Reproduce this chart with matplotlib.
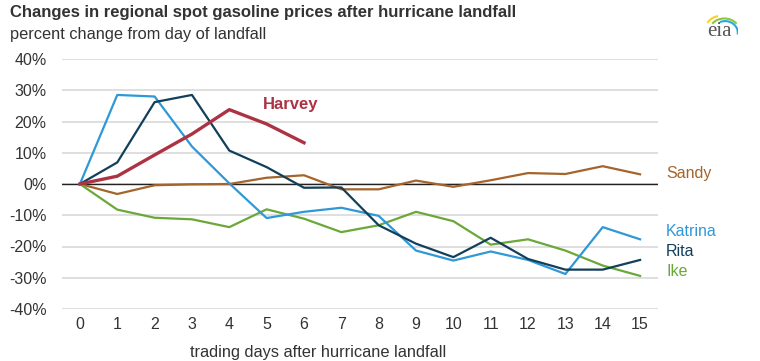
import matplotlib.pyplot as plt
from matplotlib.patches import Arc

# dias de pregão após a chegada do furacão
dias = list(range(16))
rotulos_x = [str(d) for d in dias]

katrina = [0, 28.5, 28.0, 12.0, 0.2, -10.9, -8.9, -7.6, -10.2, -21.3, -24.5, -21.6, -24.3, -28.8, -13.8, -17.7]
rita = [0, 6.9, 26.2, 28.5, 10.7, 5.4, -1.2, -1.1, -13.2, -19.1, -23.4, -17.2, -24.0, -27.4, -27.4, -24.3]
ike = [0, -8.2, -10.8, -11.3, -13.8, -8.1, -11.1, -15.4, -13.2, -8.9, -11.9, -19.4, -17.7, -21.3, -26.1, -29.4]
sandy = [0, -3.2, -0.4, -0.1, 0.0, 2.0, 2.8, -1.7, -1.7, 1.1, -0.9, 1.2, 3.5, 3.2, 5.7, 3.1]
harvey = [0, 2.5, 9.3, 16.0, 23.8, 19.2, 13.2]

cor_katrina = "#2f98d6"
cor_rita = "#123f5a"
cor_ike = "#6aa83a"
cor_sandy = "#a4642c"
cor_harvey = "#ab3343"

fonte = "Liberation Sans"

fig = plt.figure(figsize=(7.6, 3.61), dpi=100)
ax = fig.add_axes([62 / 760, 52 / 361, 596 / 760, 250 / 361])

ax.set_ylim(-40, 40)
ax.set_xlim(-0.48, 15.48)
ax.set_yticks(range(-40, 41, 10))
ax.set_yticklabels([f"{v}%" for v in range(-40, 41, 10)], fontfamily=fonte)
ax.set_xticks(dias)
ax.set_xticklabels(rotulos_x, fontfamily=fonte)
ax.tick_params(length=0, labelsize=11.5, colors="#333333", pad=6)
ax.tick_params(axis="y", pad=11)
ax.grid(axis="y", color="#d9d9d9", linewidth=1.2)
ax.set_axisbelow(True)
for s in ax.spines.values():
    s.set_visible(False)
ax.axhline(0, color="#222222", linewidth=1.0, zorder=2)

ax.plot(dias, sandy, color=cor_sandy, linewidth=1.6, zorder=3)
ax.plot(dias, ike, color=cor_ike, linewidth=1.6, zorder=3)
ax.plot(dias, katrina, color=cor_katrina, linewidth=1.6, zorder=4)
ax.plot(dias, rita, color=cor_rita, linewidth=1.6, zorder=4)
ax.plot(dias[:len(harvey)], harvey, color=cor_harvey, linewidth=2.4, zorder=5)

ax.text(4.9, 25.5, "Harvey", color=cor_harvey, fontsize=12, fontweight="bold",
        fontfamily=fonte, va="center")
ax.text(15.7, 3.5, "Sandy", color=cor_sandy, fontsize=11.5, fontfamily=fonte, va="center")
ax.text(15.7, -15.3, "Katrina", color=cor_katrina, fontsize=11.5, fontfamily=fonte, va="center")
ax.text(15.7, -21.6, "Rita", color=cor_rita, fontsize=11.5, fontfamily=fonte, va="center")
ax.text(15.7, -27.9, "Ike", color=cor_ike, fontsize=11.5, fontfamily=fonte, va="center")

fig.text(10 / 760, 1 - 13 / 361, "Changes in regional spot gasoline prices after hurricane landfall",
         fontsize=12, fontweight="bold", color="#333333", fontfamily=fonte, va="center")
fig.text(10 / 760, 1 - 34 / 361, "percent change from day of landfall",
         fontsize=11.8, color="#333333", fontfamily=fonte, va="center")
fig.text(190 / 760, 1 - 352 / 361, "trading days after hurricane landfall",
         fontsize=11.8, color="#333333", fontfamily=fonte, va="center")

# logo eia
fig.text(719 / 760, 1 - 31 / 361, "eia", fontsize=15, color="#555555",
         fontfamily="Liberation Serif", ha="center", va="center")
logo = fig.add_axes([704 / 760, 1 - 38 / 361, 34 / 760, 26 / 361])
logo.set_xlim(0, 1)
logo.set_ylim(0, 1)
logo.axis("off")
logo.add_patch(Arc((0.6, 0.25), 0.9, 1.0, theta1=40, theta2=140, color="#8dc63f", lw=1.5))
logo.add_patch(Arc((0.62, 0.2), 0.75, 0.9, theta1=-10, theta2=110, color="#29a8e0", lw=1.5))
logo.add_patch(Arc((0.5, 0.35), 0.9, 1.0, theta1=100, theta2=150, color="#f5d328", lw=1.5))

plt.savefig("out.png")
plt.close()
